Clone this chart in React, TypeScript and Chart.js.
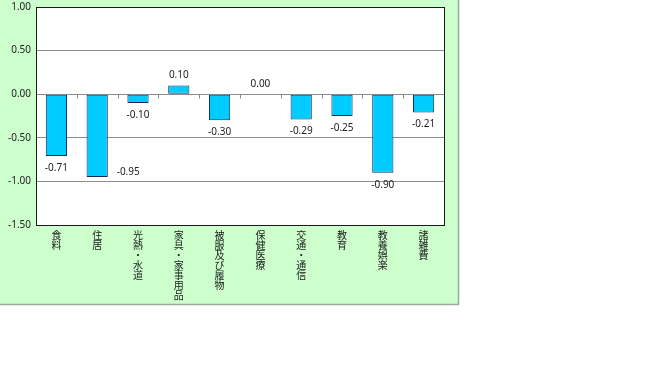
import React, { useEffect, useRef } from "react";
import { Chart, registerables } from "chart.js";

Chart.register(...registerables);

const categories = ["食料", "住居", "光熱・水道", "家具・家事用品", "被服及び履物", "保健医療", "交通・通信", "教育", "教養娯楽", "諸雑費"];
const values = [-0.71, -0.95, -0.1, 0.1, -0.3, 0.0, -0.29, -0.25, -0.9, -0.21];
const yMin = -1.5;
const yMax = 1.0;
const yStep = 0.5;

const FONT = "'Noto Sans CJK JP', sans-serif";
const NUM_FONT = "'Noto Sans', 'DejaVu Sans', sans-serif";
const LABEL_NUDGE: Record<number, [number, number]> = { 1: [31, -17] };

const framePlugin = {
  id: "frame",
  beforeDraw(chart: any) {
    const { ctx, chartArea } = chart;
    ctx.save();
    ctx.fillStyle = "#ffffff";
    ctx.fillRect(0, 0, chart.width, chart.height);
    ctx.fillStyle = "#ccffcc";
    ctx.fillRect(0, 0, 459, 305);
    ctx.strokeStyle = "#9aa89a";
    ctx.lineWidth = 1.5;
    ctx.beginPath();
    ctx.moveTo(458.5, 0);
    ctx.lineTo(458.5, 304.5);
    ctx.lineTo(0, 304.5);
    ctx.stroke();
    ctx.fillStyle = "#ffffff";
    ctx.fillRect(chartArea.left, chartArea.top, chartArea.right - chartArea.left, chartArea.bottom - chartArea.top);
    ctx.restore();
  },
  afterDatasetsDraw(chart: any) {
    const { ctx, chartArea, scales } = chart;
    const y = scales.y;
    ctx.save();
    const y0 = Math.round(y.getPixelForValue(0)) + 0.5;
    ctx.strokeStyle = "#888";
    ctx.lineWidth = 1;
    const n = categories.length;
    const w = (chartArea.right - chartArea.left) / n;
    for (let i = 1; i < n; i++) {
      const px = Math.round(chartArea.left + w * i) + 0.5;
      ctx.beginPath();
      ctx.moveTo(px, y0);
      ctx.lineTo(px, y0 + 4);
      ctx.stroke();
    }
    ctx.strokeStyle = "#1a1a1a";
    ctx.lineWidth = 1;
    ctx.strokeRect(Math.round(chartArea.left) + 0.5, Math.round(chartArea.top) + 0.5, Math.round(chartArea.right - chartArea.left), Math.round(chartArea.bottom - chartArea.top));
    ctx.fillStyle = "#222";
    ctx.font = `10px ${NUM_FONT}`;
    ctx.textAlign = "center";
    ctx.textBaseline = "middle";
    const meta = chart.getDatasetMeta(0);
    meta.data.forEach((bar: any, i: number) => {
      const v = values[i];
      const endY = y.getPixelForValue(v);
      let ly = v >= 0 ? endY - 10 : endY + 12;
      let lx = bar.x;
      const nudge = LABEL_NUDGE[i];
      if (nudge) {
        lx += nudge[0];
        ly += nudge[1];
      }
      ctx.fillText(v.toFixed(2), lx, ly);
    });
    ctx.restore();
  },
};

export default function App() {
  const ref = useRef<HTMLCanvasElement>(null);
  useEffect(() => {
    if (!ref.current) return;
    const chart = new Chart(ref.current, {
      type: "bar",
      data: {
        labels: categories.map((c) => c.split("")),
        datasets: [
          {
            data: values,
            backgroundColor: "#00ccff",
            borderColor: "#0f2f5a",
            borderWidth: 1,
            borderSkipped: false,
            barPercentage: 0.52,
            categoryPercentage: 1,
          },
        ],
      },
      options: {
        responsive: false,
        animation: false,
        maintainAspectRatio: false,
        layout: { padding: { left: 0, right: 216, top: 7, bottom: 0 } },
        plugins: { legend: { display: false }, tooltip: { enabled: false } },
        scales: {
          x: {
            grid: { display: false },
            border: { display: false },
            ticks: {
              color: "#1a1a1a",
              font: { family: FONT, size: 10, lineHeight: 1.0 },
              maxRotation: 0,
              minRotation: 0,
              autoSkip: false,
              padding: -3,
            },
            afterFit(scale: any) {
              scale.height = 146;
              scale.paddingLeft = 0;
              scale.paddingRight = 0;
            },
          },
          y: {
            min: yMin,
            max: yMax,
            border: { display: false },
            grid: {
              color: (c: any) => (c.tick && (c.tick.value === yMin || c.tick.value === yMax) ? "rgba(0,0,0,0)" : "#8c8c8c"),
              drawTicks: false,
              lineWidth: 1,
            },
            ticks: {
              stepSize: yStep,
              color: "#222",
              font: { family: NUM_FONT, size: 10 },
              padding: 5,
              callback: (v: any) => Number(v).toFixed(2),
            },
            afterFit(scale: any) {
              scale.width = 36;
              scale.paddingTop = 0;
              scale.paddingBottom = 0;
            },
          },
        },
      },
      plugins: [framePlugin],
    });
    return () => chart.destroy();
  }, []);
  return (
    <div style={{ position: "fixed", left: 0, top: 0, width: 660, height: 371 }}>
      <canvas ref={ref} width={660} height={371} style={{ display: "block" }} />
    </div>
  );
}
